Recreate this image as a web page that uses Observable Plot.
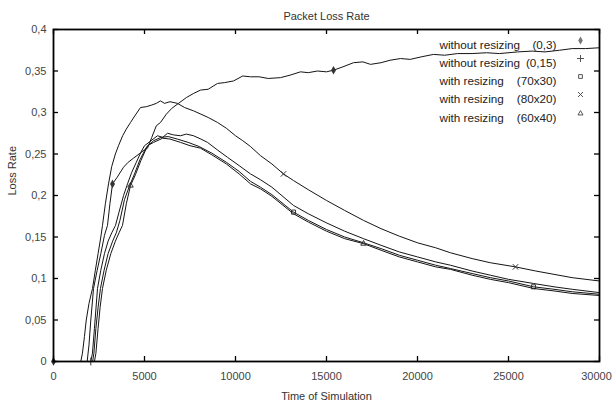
<!DOCTYPE html>
<html><head><meta charset="utf-8">
<script src="https://cdn.jsdelivr.net/npm/d3@7"></script>
<script src="https://cdn.jsdelivr.net/npm/@observablehq/plot@0.6"></script>
<style>body{margin:0;background:#fff;} #chart svg{display:block;}</style>
</head><body><div id="chart"></div>
<script>
const title = "Packet Loss Rate";
const xLabel = "Time of Simulation";
const yLabel = "Loss Rate";
const xTicks = [0, 5000, 10000, 15000, 20000, 25000, 30000];
const yTicks = [0, 0.05, 0.1, 0.15, 0.2, 0.25, 0.3, 0.35, 0.4];

const legendNames = ["without resizing", "without resizing", "with resizing", "with resizing", "with resizing"];
const legendParams = ["(0,3)", "(0,15)", "(70x30)", "(80x20)", "(60x40)"];
const legendSymbols = ["diamond", "plus", "square2", "times", "triangle2"];

// without resizing (0,3)
const xA = [0,1850,1950,2050,2200,2400,2600,2800,2967,3100,3242,3500,3846,4100,4396,4700,5000,5165,5400,5650,5879,6200,6500,6869,7300,7700,8077,8500,9011,9400,9890,10400,10825,11300,11800,12473,13000,13571,14000,14500,15000,15385,15900,16484,17000,17418,18000,18500,19066,19600,20200,20879,21500,22200,23000,23800,24500,25495,26300,27000,27800,28500,29231,30000];
const yA = [0,0,0.02,0.05,0.088,0.11,0.13,0.152,0.164,0.19,0.214,0.222,0.234,0.24,0.245,0.25,0.255,0.257,0.27,0.284,0.288,0.298,0.305,0.311,0.318,0.323,0.327,0.328,0.335,0.336,0.338,0.344,0.343,0.343,0.341,0.342,0.345,0.349,0.348,0.35,0.349,0.351,0.355,0.36,0.361,0.358,0.36,0.363,0.365,0.364,0.367,0.37,0.369,0.371,0.371,0.372,0.371,0.373,0.374,0.373,0.375,0.377,0.377,0.378];
// without resizing (0,15)
const xB = [0,2050,2140,2250,2418,2600,2800,3000,3200,3407,3600,3850,4066,4300,4550,4800,5000,5300,5714,6000,6264,6600,6978,7300,7692,8100,8462,9000,9560,10200,10825,11374,12000,13187,14000,15000,16000,17033,18000,19000,20000,21000,21813,23000,24000,25000,26374,27500,28500,30000];
const yB = [0,0,0.01,0.04,0.088,0.11,0.13,0.145,0.155,0.164,0.18,0.2,0.214,0.228,0.24,0.252,0.26,0.265,0.272,0.27,0.275,0.273,0.272,0.274,0.272,0.268,0.264,0.255,0.246,0.236,0.226,0.219,0.21,0.188,0.178,0.167,0.157,0.148,0.14,0.132,0.126,0.12,0.116,0.109,0.104,0.099,0.094,0.09,0.087,0.083];
// with resizing (70x30)
const xC = [0,2150,2220,2330,2450,2580,2780,3000,3250,3450,3650,3900,4150,4450,4750,5100,5500,5900,6300,6800,7400,8000,8700,9500,10200,10825,11374,12000,13187,14000,15000,16000,17033,18000,19000,20000,21000,21813,23000,24000,25000,26374,27500,28500,30000];
const yC = [0,0,0.01,0.04,0.065,0.088,0.11,0.13,0.145,0.155,0.17,0.195,0.21,0.226,0.243,0.258,0.266,0.27,0.271,0.268,0.264,0.259,0.251,0.24,0.229,0.217,0.21,0.201,0.18,0.17,0.159,0.15,0.143,0.136,0.128,0.122,0.116,0.112,0.106,0.101,0.097,0.09,0.087,0.084,0.081];
// with resizing (80x20)
const xD = [0,1500,1590,1700,1800,1950,2143,2300,2450,2600,2692,2850,3022,3200,3400,3571,3800,4000,4231,4500,4780,5100,5400,5650,5879,6100,6400,6813,7200,7692,8100,8500,9011,9500,10000,10400,10825,11374,12000,12637,13187,14000,15000,16000,17033,18000,19000,20000,21000,21813,23000,24000,25385,26500,27500,28500,30000];
const yD = [0,0,0.01,0.03,0.05,0.07,0.088,0.11,0.13,0.15,0.164,0.19,0.214,0.235,0.25,0.26,0.272,0.28,0.288,0.297,0.306,0.307,0.309,0.311,0.314,0.311,0.313,0.311,0.306,0.302,0.298,0.294,0.288,0.281,0.272,0.266,0.259,0.248,0.238,0.226,0.218,0.207,0.194,0.182,0.17,0.16,0.151,0.143,0.137,0.131,0.124,0.119,0.114,0.109,0.105,0.101,0.097];
// with resizing (60x40)
const xE = [0,2250,2330,2450,2560,2692,2900,3150,3400,3600,3791,4000,4231,4500,4800,5165,5500,6000,6400,6978,7500,8077,8700,9500,10200,10825,11374,12000,13187,14000,15000,16000,17033,18000,19000,20000,21000,21813,23000,24000,25000,26374,27500,28500,30000];
const yE = [0,0,0.01,0.04,0.065,0.088,0.11,0.13,0.145,0.155,0.164,0.19,0.212,0.225,0.242,0.26,0.264,0.269,0.268,0.264,0.26,0.257,0.249,0.238,0.226,0.214,0.208,0.199,0.178,0.168,0.157,0.148,0.142,0.134,0.126,0.12,0.114,0.111,0.104,0.099,0.095,0.088,0.085,0.082,0.0795];

// x positions of the plotted point symbols on each series
const markA = [0, 3242, 15385];
const markB = [2050];
const markC = [13187, 26374];
const markD = [12637, 25385];
const markE = [4231, 17033];

const seriesX = [xA, xB, xC, xD, xE];
const seriesY = [yA, yB, yC, yD, yE];
const seriesMarks = [markA, markB, markC, markD, markE];

const W = 613, H = 410, mL = 53, mR = 14, mT = 29, mB = 49;
const fw = W - mL - mR, fh = H - mT - mB;
const ink = "#141414";

const marks = [];
seriesX.forEach((xs, i) => {
  const data = xs.map((x, j) => ({x, y: seriesY[i][j]}));
  marks.push(Plot.line(data, {x: "x", y: "y", stroke: ink, strokeWidth: 1}));
  const pts = seriesMarks[i].map(mx => data.find(d => d.x === mx)).filter(Boolean);
  marks.push(Plot.dot(pts, {x: "x", y: "y", symbol: legendSymbols[i], r: 2.6,
    stroke: legendSymbols[i] === "diamond" ? "none" : "#333",
    fill: legendSymbols[i] === "diamond" ? "#333" : "none", strokeWidth: 1}));
});

// inward ticks on all four sides
marks.push(Plot.tickX(xTicks, {x: d => d, insetTop: fh - 5, stroke: "#000", strokeWidth: 1.3}));
marks.push(Plot.tickX(xTicks, {x: d => d, insetBottom: fh - 5, stroke: "#000", strokeWidth: 1.3}));
marks.push(Plot.tickY(yTicks, {y: d => d, insetRight: fw - 5, stroke: "#000", strokeWidth: 1.3}));
marks.push(Plot.tickY(yTicks, {y: d => d, insetLeft: fw - 5, stroke: "#000", strokeWidth: 1.3}));
marks.push(Plot.frame({stroke: "#000", strokeWidth: 1.8}));

const fmtX = d => String(d);
marks.push(Plot.axisX(xTicks.slice(0, -1), {tickSize: 0, tickPadding: 11, tickFormat: fmtX, label: null, fill: "#444"}));
marks.push(Plot.axisX(xTicks.slice(-1), {tickSize: 0, tickPadding: 11, tickFormat: fmtX, label: null, fill: "#444", dx: -3}));
marks.push(Plot.axisY(yTicks, {tickSize: 0, tickPadding: 7, tickFormat: d => String(+d.toFixed(2)).replace(".", ","), label: null, fill: "#444"}));

marks.push(Plot.text([title], {frameAnchor: "top", dy: -17, text: d => d, fill: "#333"}));
marks.push(Plot.text([xLabel], {frameAnchor: "bottom", dy: 38, text: d => d, fill: "#333"}));
marks.push(Plot.text([yLabel], {frameAnchor: "left", dx: -41, rotate: -90, text: d => d, fill: "#333"}));

// legend
const rowDy = [11, 29, 47, 65, 84];
legendNames.forEach((name, i) => {
  marks.push(Plot.text([name], {frameAnchor: "top-left", dx: 386, dy: rowDy[i], text: d => d, textAnchor: "start", fill: "#222", fontSize: 11.7}));
  marks.push(Plot.text([legendParams[i]], {frameAnchor: "top-left", dx: 503, dy: rowDy[i], text: d => d, textAnchor: "end", fill: "#222", fontSize: 11.7}));
  const s = legendSymbols[i];
  marks.push(Plot.dot([0], {frameAnchor: "top-left", dx: 527, dy: rowDy[i], symbol: s, r: 2.4,
    stroke: s === "diamond" ? "none" : "#555", fill: s === "diamond" ? "#777" : "none", strokeWidth: 1}));
});

const chart = Plot.plot({
  width: W, height: H,
  marginLeft: mL, marginRight: mR, marginTop: mT, marginBottom: mB,
  x: {domain: [0, 30000]},
  y: {domain: [0, 0.4]},
  style: {fontFamily: "'Liberation Sans', Arial, sans-serif", fontSize: "11px", background: "#fff", overflow: "visible"},
  marks
});
document.getElementById("chart").appendChild(chart);
</script>
</body></html>
